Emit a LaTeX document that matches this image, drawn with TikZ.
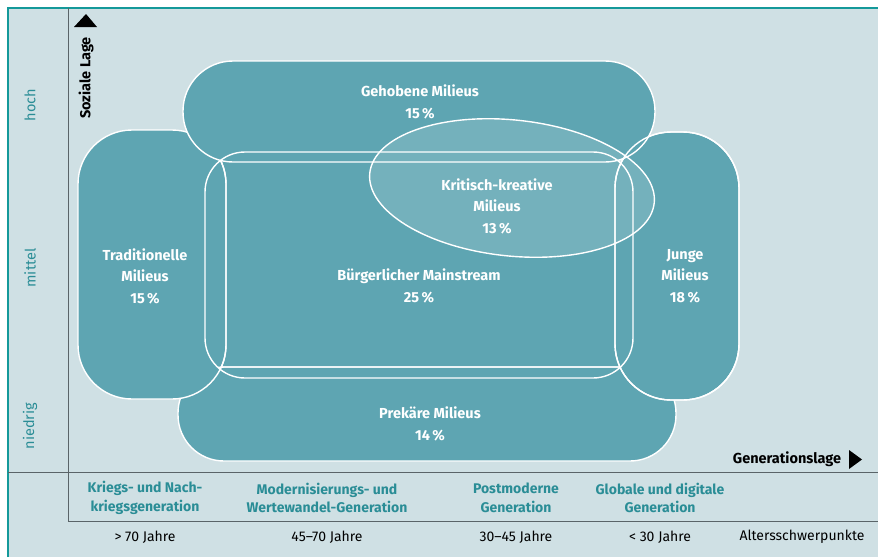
\documentclass[tikz,border=0pt]{standalone}
\usepackage{fontspec}
\setmainfont{Fira Sans}
\definecolor{bg}{HTML}{CFE0E4}
\definecolor{blobfill}{HTML}{5EA5B2}
\definecolor{tealtext}{HTML}{2A8D96}
\definecolor{bordercol}{HTML}{14999A}
\definecolor{axiscol}{HTML}{5A6468}
\tikzset{
  blob/.style={fill=blobfill},
  blobline/.style={draw=white, line width=1.4pt},
  inlabel/.style={text=white, font=\bfseries\fontsize{14.5}{21.5}\selectfont, align=center},
  genlabel/.style={text=tealtext, font=\bfseries\fontsize{14}{18.5}\selectfont, align=center},
  agelabel/.style={text=black, font=\fontsize{14}{16}\selectfont},
  levellabel/.style={text=tealtext, font=\fontsize{14.5}{17}\selectfont, rotate=90},
  axislabel/.style={text=black, font=\bfseries\fontsize{14.5}{17}\selectfont},
  rule/.style={draw=axiscol, line width=0.9pt}
}
\newcommand{\pGeh}{[rounded corners=50pt] (183,61) rectangle (655,162)}
\newcommand{\pTrad}{[rounded corners=54pt] (78,130) rectangle (226,399)}
\newcommand{\pJung}{[rounded corners=56pt] (615,132) rectangle (739,400)}
\newcommand{\pMain}{[rounded corners=40pt] (205,152) rectangle (633,378)}
\newcommand{\pPrek}{[rounded corners=46pt] (178,367) rectangle (676,461)}
\newcommand{\pKrit}{(512,188) ellipse [x radius=143, y radius=68, rotate=-6]}
\begin{document}
\begin{tikzpicture}[x=1pt,y=-1pt]
\useasboundingbox (0,0) rectangle (878,557);
\fill[white] (0,0) rectangle (878,557);
\fill[bg] (8,8) rectangle (878,557);
\draw[draw=bordercol, line width=2.2pt] (8,557) -- (8,8) -- (878,8);
% rules
\draw[rule] (68,8) -- (68,521);
\draw[rule] (8,472) -- (878,472);
\draw[rule] (68,521) -- (878,521);
% blobs (layered)
\fill[blob] \pMain;
\path[blob, blobline] \pPrek;
\path[blob, blobline] \pTrad;
\path[blob, blobline] \pJung;
\path[blob, blobline] \pGeh;
\fill[white, opacity=0.14] \pKrit;
% outlines visible through overlaps
\path[blobline] \pJung;
\path[blobline] \pMain;
\path[blobline] \pKrit;
\begin{scope}
  \clip \pMain;
  \path[blobline] \pPrek;
  \path[blobline] \pTrad;
\end{scope}
% blob labels
\node[inlabel] (geh) at (420,102) {Gehobene Milieus\\15\,\%};
\node[inlabel] (trad) at (145,276) {Traditionelle\\Milieus\\15\,\%};
\node[inlabel] (main) at (419,286) {Bürgerlicher Mainstream\\25\,\%};
\node[inlabel] (krit) at (497,206) {Kritisch-kreative\\Milieus\\13\,\%};
\node[inlabel] (jung) at (685,276) {Junge\\Milieus\\18\,\%};
\node[inlabel] (prek) at (430,424) {Prekäre Milieus\\14\,\%};
% axes
\fill[black] (74,27) -- (97,27) -- (86,14) -- cycle;
\node[axislabel, rotate=90] (soz) at (86,78) {Soziale Lage};
\fill[black] (849,450) -- (849,469) -- (862,459.5) -- cycle;
\node[axislabel] (gen) at (787,459) {Generationslage};
% level labels
\node[levellabel] (hoch) at (30,105) {hoch};
\node[levellabel] (mittel) at (30,268) {mittel};
\node[levellabel] (niedrig) at (30,426) {niedrig};
% generation labels
\node[genlabel] (g1) at (145,498) {Kriegs- und Nach-\\kriegsgeneration};
\node[genlabel] (g2) at (327,498) {Modernisierungs- und\\Wertewandel-Generation};
\node[genlabel] (g3) at (516,498) {Postmoderne\\Generation};
\node[genlabel] (g4) at (660,498) {Globale und digitale\\Generation};
% ages
\node[agelabel] (a1) at (145,537) {> 70 Jahre};
\node[agelabel] (a2) at (327,537) {45–70 Jahre};
\node[agelabel] (a3) at (516,537) {30–45 Jahre};
\node[agelabel] (a4) at (660,537) {< 30 Jahre};
\node[agelabel] (a5) at (802,537) {Altersschwerpunkte};
\end{tikzpicture}
\end{document}
